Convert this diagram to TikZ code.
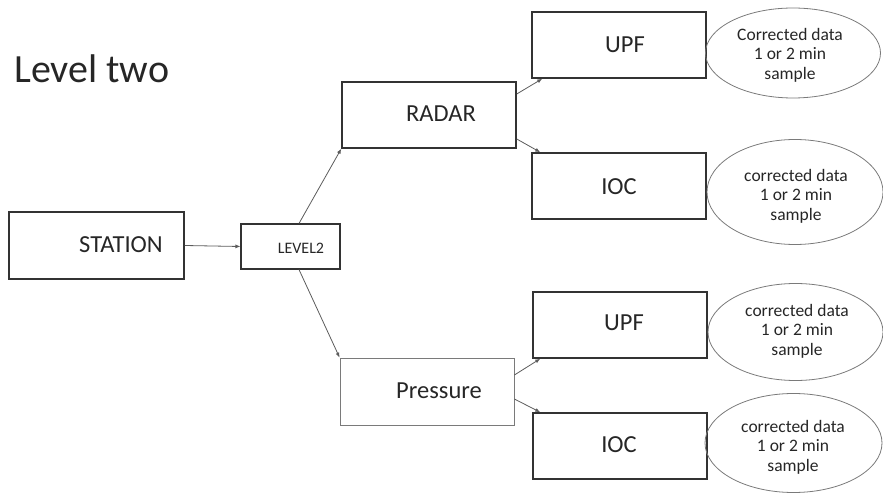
\documentclass[tikz,border=0pt]{standalone}
\usepackage{fontspec}
\setmainfont{Carlito}
\usetikzlibrary{shapes.geometric,arrows.meta}
\definecolor{edge}{HTML}{333333}
\definecolor{softedge}{HTML}{7A7A7A}
\definecolor{ink}{HTML}{262626}
\begin{document}
\begin{tikzpicture}[x=1pt,y=-1pt,
  box/.style={draw=edge, line width=1.5pt, rectangle, inner sep=0pt,
    minimum width=174pt, minimum height=66pt},
  lightbox/.style={box, draw=softedge, line width=0.8pt},
  smallbox/.style={box, line width=1.1pt, minimum width=99pt, minimum height=45pt},
  caption/.style={font=\fontsize{24.5}{28}\selectfont, text=ink, inner sep=0pt},
  smallcaption/.style={font=\fontsize{16}{18}\selectfont, text=ink, inner sep=0pt},
  result/.style={ellipse, draw=softedge, line width=0.8pt, inner sep=0pt},
  resulttext/.style={align=center, text=ink, inner sep=0pt,
    font=\fontsize{17.5}{19.5}\selectfont},
  link/.style={draw=edge!80, line width=0.8pt, -{Latex[length=5pt,width=4pt]}}]
\useasboundingbox (0,0) rectangle (883,494);

% heading
\node[anchor=base west, inner sep=0pt, text=ink,
  font=\fontsize{40}{46}\selectfont] (title) at (14,83) {Level two};

% source and dispatcher
\node[box, minimum width=175pt, minimum height=67pt] (station) at (96.5,245.5) {};
\node[caption] (stationtxt) at (121,245) {STATION};
\node[smallbox] (level) at (290.5,246.5) {};
\node[smallcaption] (leveltxt) at (301,248) {LEVEL2};

% sensor branches
\node[box] (radar) at (429,115) {};
\node[caption] (radartxt) at (441,114) {RADAR};
\node[lightbox, minimum height=67pt] (pressure) at (427,391.5) {};
\node[caption] (pressuretxt) at (439,391) {Pressure};

% processing targets
\node[box] (upfa) at (619,45) {};
\node[caption] (upfatxt) at (625,45) {UPF};
\node[box] (ioca) at (619,186) {};
\node[caption] (iocatxt) at (619,187) {IOC};
\node[box] (upfb) at (620,325) {};
\node[caption] (upfbtxt) at (624,323) {UPF};
\node[box] (iocb) at (620,446) {};
\node[caption] (iocbtxt) at (619,445) {IOC};

% outputs
\node[result, minimum width=175pt, minimum height=90pt] (outa) at (793,53) {};
\node[resulttext] (outatxt) at (790,55) {Corrected data\\1 or 2 min\\sample};
\node[result, minimum width=176pt, minimum height=105pt] (outb) at (795,192) {};
\node[resulttext] (outbtxt) at (796,196) {corrected data\\1 or 2 min\\sample};
\node[result, minimum width=175pt, minimum height=97pt] (outc) at (795.5,332) {};
\node[resulttext] (outctxt) at (797,331) {corrected data\\1 or 2 min\\sample};
\node[result, minimum width=177pt, minimum height=99pt] (outd) at (793.5,443) {};
\node[resulttext] (outdtxt) at (793,447) {corrected data\\1 or 2 min\\sample};

% connectors
\draw[link] (station.east) -- (level.west);
\draw[link] ([xshift=8.5pt]level.north) -- (radar.south west);
\draw[link] ([xshift=8.5pt]level.south) -- (pressure.north west);
\draw[link] ([yshift=21pt]radar.east) -- ([xshift=11pt]upfa.south west);
\draw[link] ([yshift=-24pt]radar.east) -- ([xshift=9pt]ioca.north west);
\draw[link] ([yshift=16.5pt]pressure.east) -- ([xshift=8pt]upfb.south west);
\draw[link] ([yshift=-7.5pt]pressure.east) -- ([xshift=8pt]iocb.north west);
\end{tikzpicture}
\end{document}
